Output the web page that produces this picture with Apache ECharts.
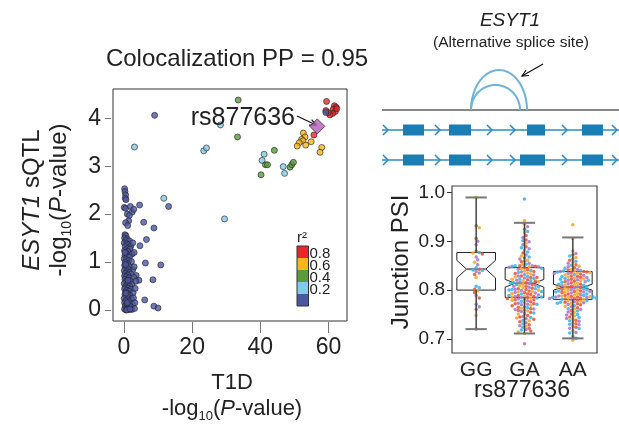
<!DOCTYPE html>
<html>
<head>
<meta charset="utf-8">
<script src="https://cdn.jsdelivr.net/npm/echarts@6/dist/echarts.min.js"></script>
<style>
html, body { margin: 0; padding: 0; background: #fff; }
#chart { width: 619px; height: 425px; }
</style>
</head>
<body>
<div id="chart"></div>
<script>
var FONT = "'Liberation Sans', Arial, sans-serif";

// ---- colocalization scatter: [T1D -log10 P, sQTL -log10 P] ----
var snpRed = [[59.4, 4.35], [61.7, 4.26], [62.2, 4.23], [61.4, 4.19], [62.0, 4.14], [61.2, 4.10],
  [60.4, 4.07], [59.9, 4.12], [59.2, 4.16], [62.4, 4.20], [55.7, 3.65]];
var snpYellow = [[52.6, 3.69], [53.1, 3.61], [52.1, 3.56], [52.5, 3.53], [51.4, 3.49], [53.3, 3.44],
  [54.9, 3.51], [50.8, 3.42], [58.0, 3.39], [57.5, 3.29]];
var snpGreen = [[33.5, 4.38], [33.3, 3.61], [44.1, 3.33], [41.5, 3.03], [42.1, 3.03], [40.2, 2.82],
  [48.7, 2.98], [49.2, 3.03], [49.7, 3.08]];
var snpLightBlue = [[28.3, 3.86], [3.1, 3.40], [23.4, 3.32], [24.2, 3.38], [11.7, 2.33], [29.5, 1.90],
  [41.1, 3.25], [40.5, 3.12], [46.7, 2.99], [47.1, 2.85]];
var snpBlue = [[9.0, 4.06], [59.2, 4.12], [13.1, 2.16], [4.6, 2.19], [5.8, 1.83], [8.8, 1.71], [6.6, 1.47],
  [4.7, 1.34], [6.3, 0.98], [10.8, 0.94], [8.5, 0.63], [8.8, 0.08], [10.0, 0.04], [6.1, 0.21], [3.6, 0.72],
  [4.4, 0.62],
  [0.2, 2.53], [0.3, 2.47], [0.5, 2.40], [0.4, 2.33], [0.6, 2.30], [0.1, 2.14], [0.5, 2.12], [1.9, 2.16],
  [2.4, 2.04], [1.0, 2.00], [1.6, 1.97], [1.4, 1.86], [0.5, 1.82], [1.1, 1.76], [2.9, 2.10],
  [0.3, 1.57], [0.6, 1.55], [0.2, 1.50], [1.0, 1.48], [0.5, 1.45], [1.6, 1.44], [0.1, 1.40], [0.8, 1.38],
  [1.3, 1.36], [2.0, 1.33], [0.4, 1.32], [0.9, 1.28], [1.8, 1.27], [0.2, 1.24], [1.2, 1.22], [0.6, 1.19],
  [2.4, 1.17], [0.3, 1.14], [1.0, 1.12], [1.6, 1.10], [0.1, 1.07], [0.7, 1.05], [1.4, 1.03], [2.2, 1.01],
  [0.4, 0.99], [1.1, 0.96], [0.2, 0.93], [0.8, 0.91], [1.7, 0.90], [0.5, 0.87], [1.3, 0.85], [2.6, 0.84],
  [0.1, 0.82], [0.9, 0.80], [1.6, 0.78], [0.4, 0.76], [2.1, 0.75], [1.1, 0.73], [0.2, 0.71], [0.7, 0.69],
  [1.5, 0.67], [2.9, 0.68], [0.3, 0.64], [1.0, 0.62], [1.9, 0.61], [0.6, 0.59], [1.3, 0.57], [0.1, 0.55],
  [2.4, 0.54], [0.9, 0.52], [1.7, 0.50], [0.4, 0.48], [1.2, 0.46], [0.2, 0.44], [2.0, 0.43], [0.8, 0.41],
  [1.5, 0.39], [0.5, 0.37], [2.7, 0.36], [1.1, 0.34], [0.3, 0.32], [1.8, 0.30], [0.7, 0.28], [1.4, 0.26],
  [0.1, 0.24], [2.2, 0.23], [1.0, 0.21], [0.5, 0.19], [1.6, 0.17], [0.2, 0.15], [0.9, 0.13], [2.5, 0.12],
  [1.3, 0.10], [0.4, 0.08], [1.9, 0.07], [0.7, 0.05], [1.1, 0.03], [0.2, 0.02], [1.5, 0.01], [0.6, 0.00],
  [2.3, 0.01], [3.1, 0.03], [0.9, 0.00], [1.8, 0.02], [0.3, 1.20], [0.5, 0.95], [1.2, 0.62], [0.6, 0.35],
  [1.0, 0.15], [3.3, 0.45], [3.0, 0.90], [2.8, 0.25], [3.5, 0.60], [3.2, 0.15], [2.6, 1.40], [3.0, 1.20]];
var leadSnp = [[56.7, 3.83]];
var xTicks = [0, 20, 40, 60];
var yTicks = [0, 1, 2, 3, 4];
var ldColors = ['#e8262b', '#f6b61b', '#5a9b3b', '#80cbe9', '#4b57a2'];
var ldLabels = ['0.8', '0.6', '0.4', '0.2'];

// ---- junction PSI by genotype ----
var genotypes = ['GG', 'GA', 'AA'];
var psiTicks = [0.7, 0.8, 0.9, 1.0];
// [index, lower whisker, q1, median, q3, upper whisker, notch low, notch high]
var boxStats = [
  [0, 0.720, 0.800, 0.843, 0.877, 0.990, 0.825, 0.861],
  [1, 0.711, 0.785, 0.814, 0.846, 0.938, 0.806, 0.822],
  [2, 0.701, 0.781, 0.806, 0.838, 0.908, 0.800, 0.812]
];
var dotColors = ['#ea5b3d', '#f6a92a', '#ad7bc9', '#3db6ea'];
var ggRed = [0.932, 0.906, 0.880, 0.874, 0.843, 0.832, 0.802, 0.795, 0.784, 0.760, 0.720];
var ggOrange = [0.990, 0.928, 0.876, 0.857, 0.826, 0.798, 0.748];
var ggPurple = [0.900, 0.893, 0.868, 0.862, 0.852, 0.838, 0.835, 0.789, 0.771, 0.766];
var ggBlue = [0.877, 0.846, 0.840, 0.808, 0.805, 0.841];
var gaRed = [0.925, 0.912, 0.903, 0.889, 0.876, 0.866, 0.858, 0.850, 0.849, 0.846, 0.842, 0.838, 0.834,
  0.829, 0.826, 0.821, 0.818, 0.815, 0.811, 0.808, 0.804, 0.801, 0.798, 0.795, 0.792, 0.789, 0.787, 0.785,
  0.783, 0.780, 0.776, 0.772, 0.768, 0.765, 0.762, 0.758, 0.754, 0.748, 0.745, 0.740, 0.735, 0.729, 0.722,
  0.716, 0.826, 0.803, 0.791, 0.780, 0.772];
var gaOrange = [0.943, 0.935, 0.918, 0.896, 0.882, 0.870, 0.861, 0.852, 0.848, 0.844, 0.839, 0.833, 0.827,
  0.822, 0.817, 0.812, 0.809, 0.805, 0.800, 0.796, 0.793, 0.788, 0.786, 0.784, 0.779, 0.774, 0.769, 0.763,
  0.757, 0.751, 0.743, 0.737, 0.726, 0.714, 0.711, 0.835, 0.819, 0.797];
var gaPurple = [0.930, 0.908, 0.899, 0.893, 0.885, 0.872, 0.864, 0.855, 0.850, 0.847, 0.843, 0.837, 0.831,
  0.825, 0.820, 0.816, 0.813, 0.810, 0.806, 0.802, 0.799, 0.794, 0.790, 0.787, 0.785, 0.782, 0.778, 0.773,
  0.770, 0.766, 0.761, 0.756, 0.752, 0.746, 0.741, 0.733, 0.727, 0.719, 0.690, 0.848, 0.829, 0.808, 0.795,
  0.771, 0.760];
var gaBlue = [0.987, 0.920, 0.901, 0.887, 0.878, 0.868, 0.859, 0.853, 0.849, 0.845, 0.840, 0.836, 0.832,
  0.828, 0.823, 0.819, 0.814, 0.811, 0.807, 0.803, 0.800, 0.797, 0.792, 0.789, 0.786, 0.781, 0.777, 0.771,
  0.764, 0.759, 0.753, 0.744, 0.738, 0.731, 0.724, 0.718, 0.850, 0.824, 0.815, 0.801, 0.784];
var aaRed = [0.872, 0.861, 0.852, 0.846, 0.841, 0.838, 0.836, 0.833, 0.829, 0.826, 0.822, 0.818, 0.815,
  0.812, 0.808, 0.805, 0.802, 0.798, 0.795, 0.792, 0.789, 0.786, 0.784, 0.782, 0.779, 0.775, 0.770, 0.764,
  0.758, 0.751, 0.745, 0.738, 0.731, 0.724, 0.837, 0.828, 0.817, 0.806, 0.797, 0.787, 0.783, 0.772];
var aaOrange = [0.934, 0.906, 0.880, 0.867, 0.857, 0.849, 0.843, 0.839, 0.835, 0.831, 0.827, 0.823, 0.819,
  0.814, 0.810, 0.806, 0.803, 0.799, 0.796, 0.793, 0.790, 0.787, 0.785, 0.781, 0.777, 0.773, 0.767, 0.761,
  0.754, 0.747, 0.740, 0.733, 0.726, 0.716, 0.697, 0.836, 0.825, 0.811, 0.800, 0.788, 0.778];
var aaPurple = [0.875, 0.864, 0.855, 0.848, 0.842, 0.838, 0.834, 0.830, 0.826, 0.821, 0.817, 0.813, 0.809,
  0.804, 0.801, 0.797, 0.794, 0.791, 0.788, 0.785, 0.783, 0.780, 0.776, 0.771, 0.766, 0.760, 0.755, 0.749,
  0.742, 0.736, 0.729, 0.722, 0.713, 0.705, 0.834, 0.820, 0.807, 0.796, 0.786, 0.774];
var aaBlue = [0.870, 0.859, 0.851, 0.845, 0.840, 0.837, 0.832, 0.828, 0.824, 0.820, 0.816, 0.812, 0.807,
  0.803, 0.800, 0.796, 0.792, 0.789, 0.786, 0.784, 0.781, 0.778, 0.773, 0.768, 0.762, 0.757, 0.750, 0.744,
  0.737, 0.730, 0.721, 0.712, 0.701, 0.839, 0.822, 0.810, 0.798, 0.785, 0.775];

// ---- ESYT1 gene model (positions in track units) ----
var exonsTop = [[21, 42], [67, 89], [145, 163], [200, 221]];
var exonsBottom = [[21, 42], [67, 89], [138, 163], [200, 221]];
var chevrons = [1, 53, 105, 128, 180, 230];
var junctions = [[89, 145, 40], [89, 138, 25]]; // [from, to, arc height]

// beeswarm layout (pixel space) for the PSI dots
var PX_PER_PSI = 488, PX_PER_CAT = 48.3, DOT = 3.1;
function swarm(idx, lists) {
  var pts = [];
  lists.forEach(function (l, c) {
    l.forEach(function (v) { pts.push({ v: v, c: c }); });
  });
  pts.sort(function (a, b) { return b.v - a.v; });
  var placed = [];
  return pts.map(function (p) {
    var y = p.v * PX_PER_PSI, x = 0;
    for (var k = 0; k < 80; k++) {
      var cand = (k % 2 ? 1 : -1) * Math.ceil(k / 2) * DOT * 0.5;
      var hit = placed.some(function (q) {
        var dx = q.x - cand, dy = q.y - y;
        return dx * dx + dy * dy < DOT * DOT;
      });
      if (!hit) { x = cand; break; }
    }
    placed.push({ x: x, y: y });
    return [idx + x / PX_PER_CAT, p.v, p.c];
  });
}
var dots = [].concat(
  swarm(0, [ggRed, ggOrange, ggPurple, ggBlue]),
  swarm(1, [gaRed, gaOrange, gaPurple, gaBlue]),
  swarm(2, [aaRed, aaOrange, aaPurple, aaBlue])
);

function snpSeries(data, color) {
  return {
    type: 'scatter', xAxisIndex: 0, yAxisIndex: 0, data: data, symbolSize: 6, silent: true,
    itemStyle: { color: color, borderColor: '#222', borderWidth: 0.8 }
  };
}

function boxGeom(api) {
  var i = api.value(0);
  var band = api.size([1, 0])[0];
  function Y(d) { return api.coord([i, api.value(d)])[1]; }
  return {
    cx: api.coord([i, 0.8])[0], hw: band * 0.4, nw: band * 0.2, cw: band * 0.22,
    lo: Y(1), q1: Y(2), md: Y(3), q3: Y(4), hi: Y(5), nl: Y(6), nh: Y(7)
  };
}

function renderBox(params, api) {
  var g = boxGeom(api), cx = g.cx, hw = g.hw, nw = g.nw;
  return {
    type: 'group',
    children: [
      {
        type: 'polygon',
        shape: { points: [[cx - hw, g.q3], [cx + hw, g.q3], [cx + hw, g.nh], [cx + nw, g.md], [cx + hw, g.nl],
          [cx + hw, g.q1], [cx - hw, g.q1], [cx - hw, g.nl], [cx - nw, g.md], [cx - hw, g.nh]] },
        style: { fill: '#fff', stroke: '#222', lineWidth: 1 }
      },
      { type: 'line', shape: { x1: cx - nw, y1: g.md, x2: cx + nw, y2: g.md }, style: { stroke: '#777', lineWidth: 2 } }
    ]
  };
}

function renderWhisker(params, api) {
  var g = boxGeom(api), cx = g.cx, cw = g.cw;
  return {
    type: 'group',
    children: [
      { type: 'line', shape: { x1: cx, y1: g.hi, x2: cx, y2: g.q3 }, style: { stroke: '#444', lineWidth: 1.5 } },
      { type: 'line', shape: { x1: cx, y1: g.q1, x2: cx, y2: g.lo }, style: { stroke: '#444', lineWidth: 1.5 } },
      { type: 'line', shape: { x1: cx - cw, y1: g.hi, x2: cx + cw, y2: g.hi }, style: { stroke: '#777', lineWidth: 2 } },
      { type: 'line', shape: { x1: cx - cw, y1: g.lo, x2: cx + cw, y2: g.lo }, style: { stroke: '#777', lineWidth: 2 } }
    ]
  };
}

function trackLine(color, width) {
  return function (params, api) {
    var a = api.coord([api.value(0), api.value(2)]), b = api.coord([api.value(1), api.value(2)]);
    return { type: 'line', shape: { x1: a[0], y1: a[1], x2: b[0], y2: b[1] }, style: { stroke: color, lineWidth: width } };
  };
}

function arrow(x1, y1, x2, y2) {
  var ang = Math.atan2(y2 - y1, x2 - x1), L = 7, s = 0.45;
  var h1 = [x2 - L * Math.cos(ang - s), y2 - L * Math.sin(ang - s)];
  var h2 = [x2 - L * Math.cos(ang + s), y2 - L * Math.sin(ang + s)];
  return {
    type: 'group', children: [
      { type: 'line', shape: { x1: x1, y1: y1, x2: x2, y2: y2 }, style: { stroke: '#111', lineWidth: 1.2 } },
      { type: 'polyline', shape: { points: [h1, [x2, y2], h2] }, style: { stroke: '#111', lineWidth: 1.2, fill: null } }
    ]
  };
}

function txt(x, y, text, size, extra) {
  var st = {
    text: text, x: 0, y: 0, fill: '#222', fontSize: size, fontFamily: FONT,
    align: 'center', verticalAlign: 'middle', textAlign: 'center', textVerticalAlign: 'middle'
  };
  var el = { type: 'text', x: x, y: y, style: st, z: 10 };
  if (extra) {
    if (extra.rotation) el.rotation = extra.rotation;
    if (extra.style) Object.keys(extra.style).forEach(function (k) { st[k] = extra.style[k]; });
  }
  return el;
}

function logRich(size) {
  return {
    m: { fontSize: size, fontFamily: FONT, lineHeight: size + 6, fill: '#222' },
    i: { fontSize: size, fontFamily: FONT, fontStyle: 'italic', lineHeight: size + 6, fill: '#222' },
    s: { fontSize: Math.round(size * 0.58), fontFamily: FONT, lineHeight: Math.round(size * 0.58), verticalAlign: 'bottom', fill: '#222' }
  };
}

var graphics = [
  txt(237, 59, 'Colocalization PP = 0.95', 24),
  txt(295, 118, 'rs877636', 25, { style: { align: 'right', textAlign: 'right' } }),
  arrow(297, 116, 316, 125),
  txt(32, 200, '{i|ESYT1}{m| sQTL}', 24, { rotation: Math.PI / 2, style: { rich: logRich(24) } }),
  txt(59, 200, '{m|-log}{s|10}{m|(}{i|P}{m|-value)}', 24, { rotation: Math.PI / 2, style: { rich: logRich(24) } }),
  txt(232, 383, 'T1D', 22),
  txt(232, 409, '{m|-log}{s|10}{m|(}{i|P}{m|-value)}', 22, { style: { rich: logRich(22) } }),
  txt(302, 238, 'r²', 15),
  txt(401, 262, 'Junction PSI', 24, { rotation: Math.PI / 2 }),
  txt(522, 391, 'rs877636', 23),
  txt(510, 21, 'ESYT1', 19, { style: { fontStyle: 'italic' } }),
  txt(511, 43, '(Alternative splice site)', 15.5),
  arrow(543, 64, 522, 76)
];
ldColors.forEach(function (c, k) {
  graphics.push({ type: 'rect', z: 10, shape: { x: 297, y: 246 + k * 12, width: 11.5, height: 12 },
    style: { fill: c, stroke: null } });
});
graphics.push({ type: 'rect', z: 11, shape: { x: 297, y: 246, width: 11.5, height: 60 },
  style: { fill: null, stroke: '#333', lineWidth: 1 } });
ldLabels.forEach(function (t, k) {
  graphics.push(txt(309.5, 254 + k * 12, t, 15, { style: { align: 'left', textAlign: 'left' } }));
});

var hiddenAxis = {
  show: false, axisLine: { show: false, onZero: false }, axisTick: { show: false }, axisLabel: { show: false },
  splitLine: { show: false }
};
function hidden(extra) { return Object.assign({}, hiddenAxis, extra); }
var noLine = { show: false, onZero: false };

var chart = echarts.init(document.getElementById('chart'));
chart.setOption({
  animation: false,
  textStyle: { fontFamily: FONT },
  grid: [
    { left: 113, top: 89, width: 234, height: 232, show: true, borderColor: '#333', borderWidth: 1 },
    { left: 452, top: 186, width: 145, height: 167, show: true, borderColor: '#444', borderWidth: 1.2 },
    { left: 382, top: 60, width: 237, height: 110 }
  ],
  xAxis: [
    { type: 'value', gridIndex: 0, min: -3.2, max: 65.4, offset: 1, splitLine: { show: false },
      axisLine: noLine,
      axisTick: { length: 11, lineStyle: { color: '#777' }, customValues: xTicks },
      axisLabel: { margin: 14, fontSize: 23, color: '#222', customValues: xTicks } },
    { type: 'category', gridIndex: 1, data: genotypes, axisLine: noLine,
      axisTick: { alignWithLabel: true, length: 5, lineStyle: { color: '#333' } },
      axisLabel: { margin: 7, fontSize: 21, color: '#222' } },
    hidden({ type: 'value', gridIndex: 1, min: -0.5, max: 2.5 }),
    hidden({ type: 'value', gridIndex: 2, min: 0, max: 237 })
  ],
  yAxis: [
    { type: 'value', gridIndex: 0, min: -0.23, max: 4.61, offset: 2, splitLine: { show: false },
      axisLine: noLine,
      axisTick: { length: 6, lineStyle: { color: '#777' }, customValues: yTicks },
      axisLabel: { margin: 10, fontSize: 23, color: '#222', customValues: yTicks } },
    { type: 'value', gridIndex: 1, min: 0.671, max: 1.0135, splitLine: { show: false },
      axisLine: noLine,
      axisTick: { length: 5, lineStyle: { color: '#333' }, customValues: psiTicks },
      axisLabel: { margin: 7, fontSize: 19, color: '#222', customValues: psiTicks,
        formatter: function (v) { return v.toFixed(1); } } },
    hidden({ type: 'value', gridIndex: 2, min: 0, max: 110, inverse: true })
  ],
  graphic: graphics,
  series: [
    snpSeries(snpLightBlue, ldColors[3]),
    snpSeries(snpGreen, ldColors[2]),
    snpSeries(snpYellow, ldColors[1]),
    snpSeries(snpRed, ldColors[0]),
    snpSeries(snpBlue, ldColors[4]),
    { type: 'scatter', xAxisIndex: 0, yAxisIndex: 0, data: leadSnp, symbol: 'diamond', symbolSize: 15,
      itemStyle: { color: '#b35cb5', borderColor: '#333', borderWidth: 1 }, silent: true },
    { type: 'custom', xAxisIndex: 1, yAxisIndex: 1, data: boxStats, renderItem: renderBox, silent: true, z: 2 },
    { type: 'scatter', xAxisIndex: 2, yAxisIndex: 1, data: dots, symbolSize: 3.5, silent: true, z: 3,
      itemStyle: { opacity: 0.9, color: function (p) { return dotColors[p.data[2]]; } } },
    { type: 'custom', xAxisIndex: 1, yAxisIndex: 1, data: boxStats, renderItem: renderWhisker, silent: true, z: 4 },
    { type: 'custom', xAxisIndex: 3, yAxisIndex: 2, silent: true, clip: false,
      data: [[0, 237, 50]], renderItem: trackLine('#111', 1) },
    { type: 'custom', xAxisIndex: 3, yAxisIndex: 2, silent: true, clip: false,
      data: [[0, 237, 70], [0, 237, 100]], renderItem: trackLine('#2b8cc4', 1.5) },
    { type: 'custom', xAxisIndex: 3, yAxisIndex: 2, silent: true, clip: false,
      data: exonsTop.map(function (e) { return [e[0], e[1], 70]; })
        .concat(exonsBottom.map(function (e) { return [e[0], e[1], 100]; })),
      renderItem: function (params, api) {
        var a = api.coord([api.value(0), api.value(2)]), b = api.coord([api.value(1), api.value(2)]);
        return { type: 'rect', shape: { x: a[0], y: a[1] - 5.5, width: b[0] - a[0], height: 11 },
          style: { fill: '#1a7db3' } };
      } },
    { type: 'custom', xAxisIndex: 3, yAxisIndex: 2, silent: true, clip: false,
      data: chevrons.map(function (c) { return [c, 70]; }).concat(chevrons.map(function (c) { return [c, 100]; })),
      renderItem: function (params, api) {
        var p = api.coord([api.value(0), api.value(1)]);
        return { type: 'polyline', shape: { points: [[p[0], p[1] - 5], [p[0] + 5, p[1]], [p[0], p[1] + 5]] },
          style: { stroke: '#2b8cc4', lineWidth: 1.5, fill: null } };
      } },
    { type: 'custom', xAxisIndex: 3, yAxisIndex: 2, silent: true, clip: false,
      data: junctions,
      renderItem: function (params, api) {
        var a = api.coord([api.value(0), 50]), b = api.coord([api.value(1), 50]);
        var ry = Math.abs(api.size([0, api.value(2)])[1]);
        var rx = (b[0] - a[0]) / 2, cx = (a[0] + b[0]) / 2, pts = [];
        for (var k = 0; k <= 40; k++) {
          var t = Math.PI - Math.PI * k / 40;
          pts.push([cx + rx * Math.cos(t), a[1] - ry * Math.sin(t)]);
        }
        return { type: 'polyline', shape: { points: pts }, style: { stroke: '#6db3d8', lineWidth: 2, fill: null } };
      } }
  ]
});
</script>
</body>
</html>
